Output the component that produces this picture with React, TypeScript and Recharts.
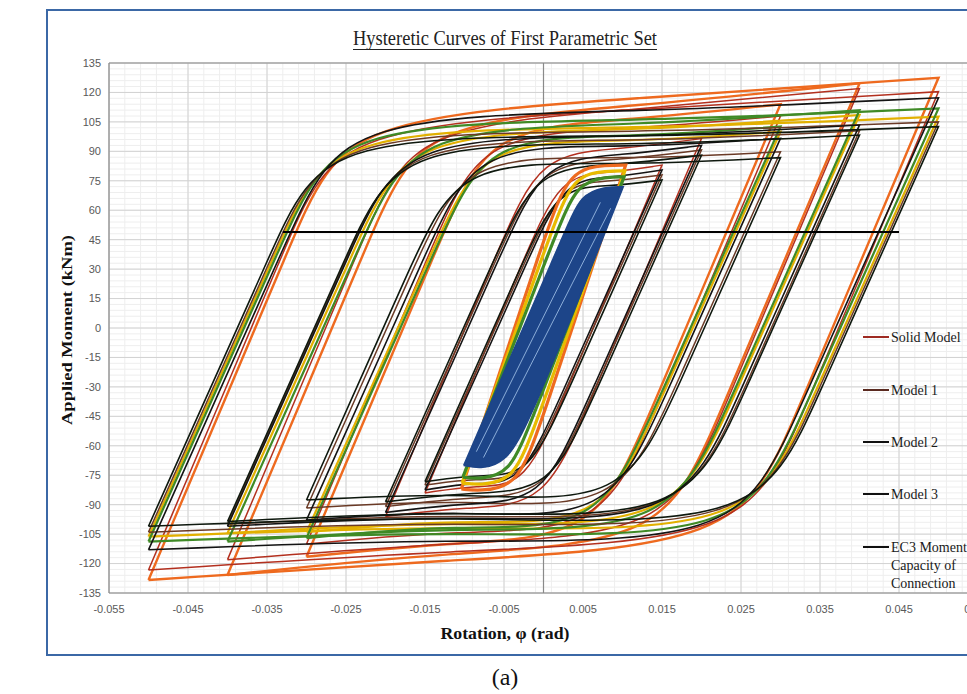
import React from 'react';
import { ScatterChart, Scatter, XAxis, YAxis, CartesianGrid } from 'recharts';

// each loop is listed as [rotation (rad), moment (kNm)] control points:
// bottom-left corner, rising branch, knee, upper plateau, top-right corner,
// falling branch, lower knee, lower plateau
type Pt = [number, number];

const xTicks = [-0.055, -0.045, -0.035, -0.025, -0.015, -0.005, 0.005, 0.015, 0.025, 0.035, 0.045, 0.055];
const yTicks = [-135, -120, -105, -90, -75, -60, -45, -30, -15, 0, 15, 30, 45, 60, 75, 90, 105, 120, 135];

// minor gridlines (Excel minor unit = major / 5)
const minorX = Array.from({ length: 56 }, (_, i) => -0.055 + i * 0.002);
const minorY = Array.from({ length: 91 }, (_, i) => -135 + i * 3);

const orangeLoops: Pt[][] = [
  [[-0.05, -128.4], [-0.0305, 57], [-0.0252, 107], [0.012, 117], [0.05, 127.5], [0.0311, -52], [0.0249, -111], [-0.012, -118]],
  [[-0.04, -125.8], [-0.021, 55], [-0.0157, 105], [0.0119, 113], [0.04, 124.6], [0.0215, -51], [0.0153, -110], [-0.0118, -114]],
  [[-0.03, -116.5], [-0.0123, 52], [-0.007, 102], [0.0112, 106], [0.03, 114], [0.013, -48], [0.0067, -107], [-0.0111, -109]],
];

const solidModelLoops: Pt[][] = [
  [[-0.05, -123.3], [-0.0314, 53], [-0.0262, 103], [0.0116, 111], [0.05, 120.4], [0.0321, -50], [0.0259, -109], [-0.0116, -113]],
  [[-0.04, -118], [-0.022, 53], [-0.0167, 103], [0.0113, 111], [0.04, 122], [0.0222, -47], [0.016, -106], [-0.0115, -109]],
  [[-0.03, -110], [-0.0133, 49], [-0.008, 99], [0.0107, 101], [0.03, 108], [0.0139, -45], [0.0077, -104], [-0.0107, -103]],
  [[-0.02, -96], [-0.0054, 43], [-0.0005, 89], [0.0097, 91], [0.02, 96.5], [0.0058, -38], [0.0003, -91], [-0.0097, -91]],
  [[-0.015, -84], [-0.0023, 37], [0.0021, 78], [0.0084, 79], [0.015, 83], [0.0026, -35], [-0.0023, -81], [-0.0084, -80]],
];

const yellowLoops: Pt[][] = [
  [[-0.05, -106.3], [-0.0324, 52], [-0.0269, 102], [0.0112, 101], [0.05, 107.7], [0.0328, -47], [0.0263, -106], [-0.0113, -100]],
  [[-0.04, -104.5], [-0.0228, 50], [-0.0173, 100], [0.011, 100], [0.04, 108.5], [0.0231, -44], [0.0165, -103], [-0.0112, -98]],
  [[-0.03, -104], [-0.0133, 46], [-0.0078, 96], [0.0108, 94.5], [0.03, 100], [0.0141, -43], [0.0076, -102], [-0.0107, -97]],
];

const greenLoops: Pt[][] = [
  [[-0.05, -108.8], [-0.0318, 55], [-0.0262, 105], [0.0115, 105], [0.05, 111.9], [0.032, -50], [0.0255, -109], [-0.0117, -103]],
  [[-0.04, -108.8], [-0.0221, 52], [-0.0166, 102], [0.0114, 103], [0.04, 111], [0.0226, -46], [0.016, -105], [-0.0115, -101]],
  [[-0.03, -107], [-0.0128, 48], [-0.0072, 98], [0.0111, 97], [0.03, 102.6], [0.0136, -45], [0.007, -104], [-0.0109, -100]],
];

const model1Loops: Pt[][] = [
  [[-0.05, -104], [-0.0328, 50.5], [-0.0273, 100.5], [0.011, 99], [0.05, 105], [0.0333, -45], [0.0268, -104], [-0.011, -98]],
  [[-0.04, -100], [-0.0237, 46.5], [-0.0182, 96.5], [0.0106, 94.5], [0.04, 100.5], [0.0243, -41], [0.0177, -100], [-0.0106, -94]],
  [[-0.03, -91.7], [-0.0155, 39], [-0.0099, 89], [0.0097, 85.5], [0.03, 89.8], [0.0161, -35], [0.0096, -94], [-0.0097, -87]],
  [[-0.02, -91], [-0.0054, 40], [-0.0006, 84], [0.0096, 85.5], [0.02, 90.7], [0.0055, -40], [0.0004, -86], [-0.0096, -86]],
  [[-0.015, -80], [-0.0024, 33], [0.0021, 74], [0.0085, 74.5], [0.015, 78], [0.0024, -35], [-0.0023, -78], [-0.0085, -76.5]],
];

const model2Loops: Pt[][] = [
  [[-0.05, -113], [-0.031, 58], [-0.0254, 108], [0.0119, 110], [0.05, 117.3], [0.0312, -52], [0.0246, -111], [-0.0121, -107]],
  [[-0.04, -101], [-0.0234, 48], [-0.0179, 98], [0.0107, 96.5], [0.04, 103.4], [0.0238, -42], [0.0173, -101], [-0.0108, -95]],
  [[-0.03, -97.8], [-0.0142, 44], [-0.0087, 94], [0.0103, 91.5], [0.03, 96.6], [0.0148, -40], [0.0083, -99], [-0.0103, -92.5]],
  [[-0.02, -94], [-0.0049, 42], [0, 86], [0.0099, 88], [0.02, 93], [0.0049, -43], [-0.0002, -89], [-0.0099, -89]],
  [[-0.015, -82.5], [-0.0019, 35], [0.0026, 76], [0.0087, 76.5], [0.015, 80.5], [0.0019, -37], [-0.0028, -80], [-0.0087, -78.5]],
];

const model3Loops: Pt[][] = [
  [[-0.05, -101], [-0.0333, 49], [-0.0278, 99], [0.0108, 96.5], [0.05, 102.6], [0.0337, -44], [0.0272, -103], [-0.0108, -95]],
  [[-0.04, -98.6], [-0.024, 45], [-0.0185, 95], [0.0104, 92.5], [0.04, 98.3], [0.0246, -40], [0.0181, -99], [-0.0104, -92.5]],
  [[-0.03, -87.6], [-0.0163, 36], [-0.0107, 86], [0.0093, 82.5], [0.03, 86.8], [0.0168, -32], [0.0102, -91], [-0.0093, -83.5]],
  [[-0.02, -88.6], [-0.0059, 38], [-0.001, 82], [0.0094, 83], [0.02, 88], [0.006, -38], [0.0009, -84], [-0.0094, -83.5]],
  [[-0.015, -78.3], [-0.0029, 31], [0.0017, 72], [0.0083, 72], [0.015, 75.4], [0.003, -33], [-0.0018, -76], [-0.0082, -74.5]],
];

// small cycles at ±0.01 rad
const coreOrange: Pt[] = [[-0.0104, -82], [0.0004, 50], [0.0033, 81], [0.0082, 83], [0.0104, 83], [-0.0004, -50], [-0.0033, -81], [-0.0082, -83]];
const coreYellow: Pt[] = [[-0.0103, -79], [0.001, 50], [0.0038, 78], [0.0081, 80], [0.0103, 80], [-0.001, -50], [-0.0038, -78], [-0.0081, -80]];
const coreGreen: Pt[] = [[-0.0102, -76], [0.0017, 50], [0.0043, 74], [0.008, 77], [0.0102, 77], [-0.0017, -50], [-0.0043, -74], [-0.008, -77]];
const coreBlue: Pt[] = [[-0.0101, -70], [0.0028, 50], [0.0047, 68], [0.0078, 72], [0.0101, 72], [-0.0019, -50], [-0.0047, -68], [-0.0078, -72]];
const coreStreaks: Pt[][] = [
  [[-0.0085, -63], [0.0072, 64]],
  [[-0.0076, -66], [0.0085, 61]],
];

// EC3 moment capacity of connection
const ec3Line: Pt[] = [[-0.033, 48.9], [0.045, 48.9]];

const SERIF = '"Liberation Serif", "Times New Roman", serif';
const SANS = '"Liberation Sans", Arial, sans-serif';

// corners repeated three times so the B-spline keeps them sharp
const toPoints = (loop: Pt[]) => {
  const [p, b, c, d, e, f, g, h] = loop;
  return [p, p, p, b, c, d, e, e, e, f, g, h, p, p, p].map(([x, y]) => ({ x, y }));
};
const toLine = (pts: Pt[]) => pts.map(([x, y]) => ({ x, y }));

const noDot = () => <g />;

const loopGroups = [
  { name: 'orange', loops: orangeLoops, color: '#ee6a1f', width: 2.4 },
  { name: 'solid', loops: solidModelLoops, color: '#b3301f', width: 1.5 },
  { name: 'yellow', loops: yellowLoops, color: '#e2b000', width: 2.2 },
  { name: 'green', loops: greenLoops, color: '#3f8a26', width: 2.2 },
  { name: 'model1', loops: model1Loops, color: '#6a3a26', width: 1.5 },
  { name: 'model2', loops: model2Loops, color: '#141414', width: 1.6 },
  { name: 'model3', loops: model3Loops, color: '#0e180e', width: 1.6 },
];

const coreGroups = [
  { name: 'core-orange', loop: coreOrange, color: '#ee6a1f', width: 3.2, fill: 'none' },
  { name: 'core-yellow', loop: coreYellow, color: '#e8bb00', width: 3.2, fill: 'none' },
  { name: 'core-green', loop: coreGreen, color: '#3f8a26', width: 3.2, fill: 'none' },
  { name: 'core-blue', loop: coreBlue, color: '#1d4589', width: 1.5, fill: '#1d4589' },
];

const legendItems = [
  { lines: ['Solid Model'], color: '#9e2a22', y: 337 },
  { lines: ['Model 1'], color: '#5a2a20', y: 390 },
  { lines: ['Model 2'], color: '#111', y: 442 },
  { lines: ['Model 3'], color: '#111', y: 494 },
  { lines: ['EC3 Moment', 'Capacity of', 'Connection'], color: '#111', y: 547 },
];

export default function App() {
  return (
    <div style={{ position: 'absolute', left: 0, top: 0, width: 967, height: 694, overflow: 'hidden', background: '#fff' }}>
      <div
        style={{
          position: 'absolute', left: 46, top: 9, width: 1000, height: 647,
          border: '2px solid #3b68a6', boxSizing: 'border-box', background: '#fff',
        }}
      />
      <div style={{ position: 'absolute', left: 0, top: 0 }}>
        <ScatterChart width={1000} height={640} margin={{ top: 63, right: 22, bottom: 17, left: 49 }}>
          <CartesianGrid horizontalValues={minorY} verticalValues={minorX} stroke="#eeeeee" strokeWidth={1} />
          <CartesianGrid stroke="#d2d2d2" strokeWidth={1} />
          <CartesianGrid horizontalValues={[135]} verticalValues={[0]} stroke="#8a8a8a" strokeWidth={1.2} />
          <XAxis
            type="number" dataKey="x" domain={[-0.055, 0.055]} ticks={xTicks} interval={0}
            allowDataOverflow tickFormatter={(v: number) => v.toFixed(3)}
            tick={{ fill: '#595959', fontSize: 11, fontFamily: SANS }}
            tickLine={false} axisLine={{ stroke: '#8a8a8a', strokeWidth: 1.2 }} height={30} tickMargin={6}
          />
          <YAxis
            type="number" dataKey="y" domain={[-135, 135]} ticks={yTicks} interval={0}
            allowDataOverflow tick={{ fill: '#595959', fontSize: 11, fontFamily: SANS }}
            tickLine={false} axisLine={{ stroke: '#8a8a8a', strokeWidth: 1.2 }} width={60}
          />
          {loopGroups.flatMap((grp) =>
            grp.loops.map((loop, i) => (
              <Scatter
                key={`${grp.name}-${i}`}
                data={toPoints(loop)}
                shape={noDot}
                line={{ stroke: grp.color, strokeWidth: grp.width }}
                lineType="joint"
                lineJointType="basis"
                isAnimationActive={false}
              />
            ))
          )}
          {coreGroups.map((c) => (
            <Scatter
              key={c.name}
              data={toPoints(c.loop)}
              shape={noDot}
              line={{ stroke: c.color, strokeWidth: c.width, fill: c.fill }}
              lineType="joint"
              lineJointType="basis"
              isAnimationActive={false}
            />
          ))}
          {coreStreaks.map((s, i) => (
            <Scatter key={`streak-${i}`} data={toLine(s)} shape={noDot} line={{ stroke: '#a9c9ee', strokeWidth: 0.8 }} lineType="joint" isAnimationActive={false} />
          ))}
          <Scatter data={toLine(ec3Line)} shape={noDot} line={{ stroke: '#000', strokeWidth: 2.2 }} lineType="joint" isAnimationActive={false} />
        </ScatterChart>
      </div>
      <svg width={967} height={694} style={{ position: 'absolute', left: 0, top: 0, pointerEvents: 'none' }}>
        <text x={505} y={45} textAnchor="middle" fontFamily={SERIF} fontSize={21} fill="#222"
          textLength={304} lengthAdjust="spacingAndGlyphs">
          Hysteretic Curves of First Parametric Set
        </text>
        <line x1={353} x2={657} y1={49.5} y2={49.5} stroke="#222" strokeWidth={1.2} />
        <text transform="translate(72,330) rotate(-90)" textAnchor="middle" fontFamily={SERIF} fontWeight="bold"
          fontSize={15} fill="#111" textLength={190} lengthAdjust="spacingAndGlyphs">
          Applied Moment (kNm)
        </text>
        <text x={505} y={639} textAnchor="middle" fontFamily={SERIF} fontWeight="bold" fontSize={16} fill="#111"
          textLength={129} lengthAdjust="spacingAndGlyphs">
          Rotation, φ (rad)
        </text>
        <text x={505} y={685} textAnchor="middle" fontFamily={SERIF} fontSize={24} fill="#111">(a)</text>
        {legendItems.map((it) => (
          <g key={it.lines[0]}>
            <line x1={863} x2={889} y1={it.y} y2={it.y} stroke={it.color} strokeWidth={2} />
            {it.lines.map((ln, j) => (
              <text key={ln} x={891} y={it.y + 5 + j * 18} fontFamily={SERIF} fontSize={14} fill="#1a1a1a">{ln}</text>
            ))}
          </g>
        ))}
      </svg>
    </div>
  );
}
